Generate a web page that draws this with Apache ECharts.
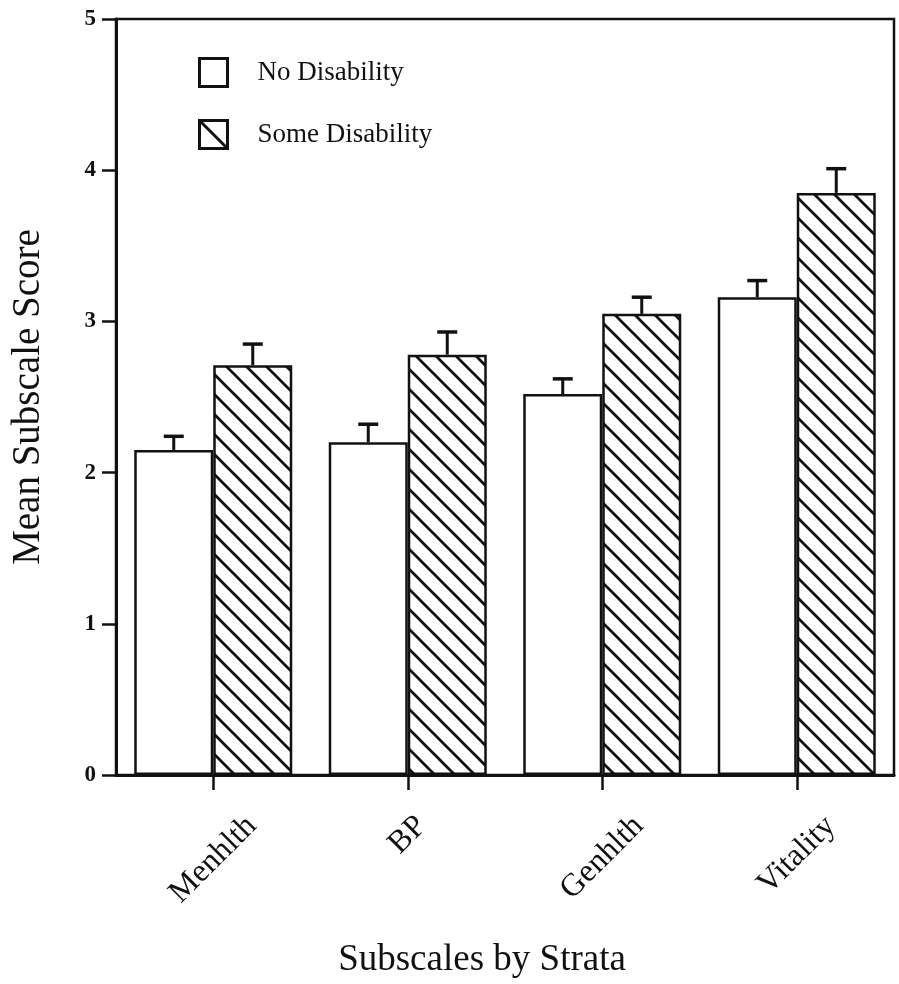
<!DOCTYPE html>
<html>
<head>
<meta charset="utf-8">
<script src="https://cdn.jsdelivr.net/npm/echarts@6/dist/echarts.min.js"></script>
<style>
html,body{margin:0;padding:0;background:#fff;}
#chart{width:899px;height:984px;}
</style>
</head>
<body>
<div id="chart"></div>
<script>
const categories = ['Menhlth', 'BP', 'Genhlth', 'Vitality'];
const seriesNames = ['No Disability', 'Some Disability'];
const noDisability = [2.15, 2.20, 2.52, 3.16];
const noDisabilityUpper = [2.24, 2.32, 2.62, 3.27];
const someDisability = [2.71, 2.78, 3.05, 3.85];
const someDisabilityUpper = [2.85, 2.93, 3.16, 4.01];
const yMin = 0, yMax = 5, yInterval = 1;

const FONT = "'Liberation Serif', 'DejaVu Serif', serif";
const INK = '#111';
const BAR_W = 79;
const CAT_FONT = 32;
const GRID_TOP = 19, GRID_H = 758;
const AXIS_Y = GRID_TOP + GRID_H;
const LABEL_TOP = 812;

function hatchPattern(size, lw) {
  const c = document.createElement('canvas');
  c.width = size; c.height = size;
  const ctx = c.getContext('2d');
  ctx.fillStyle = '#fff';
  ctx.fillRect(0, 0, size, size);
  ctx.strokeStyle = INK;
  ctx.lineWidth = lw;
  [-size, 0, size].forEach(function (o) {
    ctx.beginPath();
    ctx.moveTo(-2, -2 + o);
    ctx.lineTo(size + 2, size + 2 + o);
    ctx.stroke();
  });
  return c;
}
const hatch = hatchPattern(20, 2.7);

// measure label widths so rotated labels share a common top edge, centred under their tick
const mctx = document.createElement('canvas').getContext('2d');
mctx.font = CAT_FONT + "px 'Liberation Serif'";
function labelMargin(text) {
  const w = mctx.measureText(text).width;
  const half = (w + CAT_FONT) * Math.SQRT1_2 / 2;
  return LABEL_TOP + half - AXIS_Y;
}

const errData = [];
categories.forEach(function (c, i) { errData.push([i, noDisability[i], noDisabilityUpper[i], -1]); });
categories.forEach(function (c, i) { errData.push([i, someDisability[i], someDisabilityUpper[i], 1]); });

const labelAxes = categories.map(function (cat, k) {
  return {
    type: 'category', data: categories, gridIndex: 0, position: 'bottom',
    axisLine: {show: false}, axisTick: {show: false}, splitLine: {show: false},
    axisLabel: {
      rotate: 45, interval: 0, align: 'center', verticalAlign: 'middle',
      margin: labelMargin(cat), fontFamily: FONT, fontSize: CAT_FONT, color: INK,
      formatter: function (v, idx) { return idx === k ? v : ''; }
    }
  };
});

const chart = echarts.init(document.getElementById('chart'), null, {renderer: 'canvas'});
const option = {
  backgroundColor: '#fff',
  animation: false,
  grid: [
    {left: 116, top: GRID_TOP, width: 778, height: GRID_H, show: true, borderColor: INK, borderWidth: 2.5, backgroundColor: 'transparent'}
  ],
  legend: {
    orient: 'vertical',
    left: 198, top: 57, padding: 0,
    itemWidth: 28, itemHeight: 28, itemGap: 31,
    textStyle: {fontFamily: FONT, fontSize: 27, color: INK, padding: [0, 0, 0, 25]},
    data: [
      {name: seriesNames[0], icon: 'rect', itemStyle: {color: '#fff', borderColor: INK, borderWidth: 3}},
      {name: seriesNames[1], icon: 'path://M0,0L28,0L28,28L0,28ZM0,0L28,28', itemStyle: {color: '#fff', borderColor: INK, borderWidth: 3}}
    ]
  },
  xAxis: [
    {
      type: 'category', data: categories, gridIndex: 0,
      axisLine: {lineStyle: {color: INK, width: 3}},
      axisTick: {show: true, interval: 0, alignWithLabel: true, length: 15, lineStyle: {color: INK, width: 2.5}},
      axisLabel: {show: false},
      name: 'Subscales by Strata', nameLocation: 'middle', nameGap: 167,
      nameTextStyle: {fontFamily: FONT, fontSize: 37, color: INK, padding: [0, 46, 0, 0]}
    }
  ].concat(labelAxes),
  yAxis: [
    {
      type: 'value', gridIndex: 0, min: yMin, max: yMax, interval: yInterval,
      axisLine: {show: true, lineStyle: {color: INK, width: 3}},
      axisTick: {show: true, length: 14, lineStyle: {color: INK, width: 2.5}},
      axisLabel: {margin: 20, fontFamily: FONT, fontSize: 23, fontWeight: 'bold', color: INK},
      splitLine: {show: false},
      name: 'Mean Subscale Score', nameLocation: 'middle', nameGap: 68, nameRotate: 90,
      nameTextStyle: {fontFamily: FONT, fontSize: 39, color: INK}
    }
  ],
  series: [
    {
      name: seriesNames[0], type: 'bar', data: noDisability, barWidth: BAR_W, barGap: '0%',
      itemStyle: {color: '#fff', borderColor: INK, borderWidth: 2.5}
    },
    {
      name: seriesNames[1], type: 'bar', data: someDisability, barWidth: BAR_W, barGap: '0%',
      itemStyle: {color: {image: hatch, repeat: 'repeat'}, borderColor: INK, borderWidth: 2.5}
    },
    {
      type: 'custom', data: errData, z: 5,
      renderItem: function (params, api) {
        const cat = api.value(0), mean = api.value(1), upper = api.value(2), side = api.value(3);
        const top = api.coord([cat, upper]);
        const base = api.coord([cat, mean]);
        const x = top[0] + side * BAR_W / 2;
        return {
          type: 'group',
          children: [
            {type: 'line', shape: {x1: x, y1: base[1], x2: x, y2: top[1]}, style: {stroke: INK, lineWidth: 3}},
            {type: 'line', shape: {x1: x - 10, y1: top[1], x2: x + 10, y2: top[1]}, style: {stroke: INK, lineWidth: 3.5}}
          ]
        };
      }
    }
  ]
};
chart.setOption(option);
</script>
</body>
</html>
